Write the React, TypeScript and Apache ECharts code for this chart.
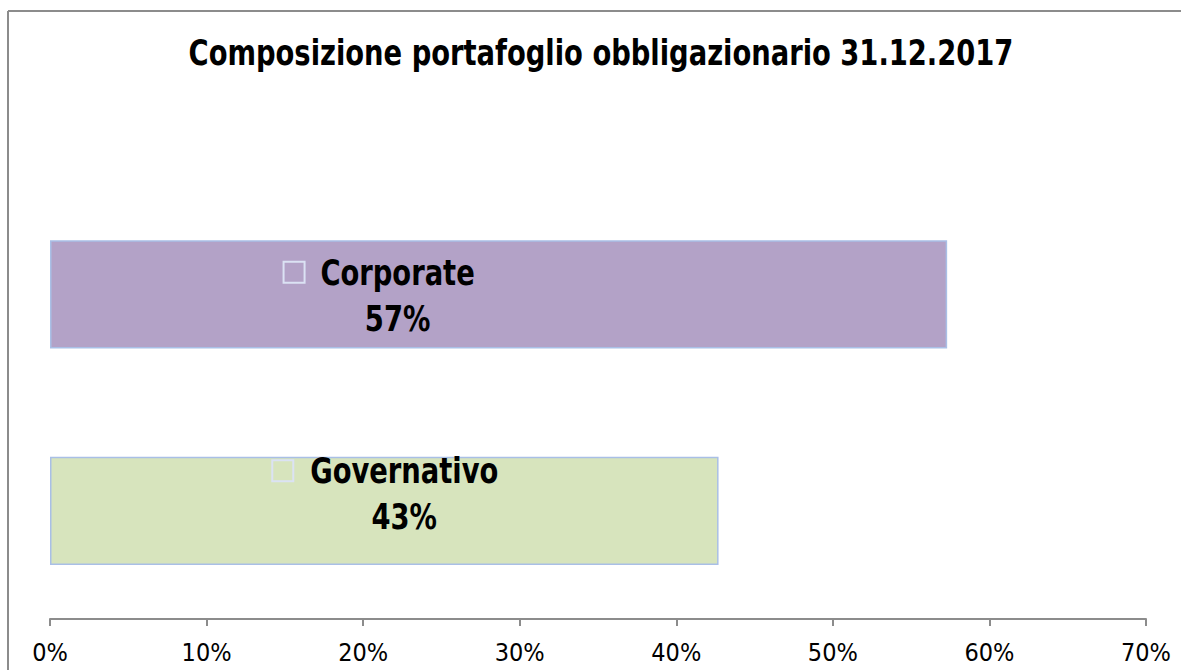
import React, { useEffect, useRef } from "react";
import * as echarts from "echarts";

const title = "Composizione portafoglio obbligazionario 31.12.2017";
const categories = ["Governativo", "Corporate"];
const values = [42.7, 57.3];
const valueLabels = ["43%", "57%"];
const tickLabels = ["0%", "10%", "20%", "30%", "40%", "50%", "60%", "70%"];

// styling (not data)
const barColors = ["#d7e4bd", "#b3a2c7"];
const labelShift = [
  { dx: 20, dy: -40, keyDx: -132 },
  { dx: -101, dy: -22, keyDx: -114 },
];

const COND = "'DejaVu Sans Condensed', 'DejaVu Sans', sans-serif";
const SQUEEZE = 0.845;

export default function App() {
  const ref = useRef<HTMLDivElement>(null);
  useEffect(() => {
    const chart = echarts.init(ref.current!, null, { renderer: "svg" });
    chart.setOption({
      animation: false,
      backgroundColor: "#ffffff",
      grid: { left: 50, right: 35, top: 186, bottom: 51, containLabel: false },
      xAxis: {
        type: "value",
        min: 0,
        max: 70,
        interval: 10,
        axisLine: { show: true, lineStyle: { color: "#8c8c8c", width: 2 } },
        axisTick: { show: true, length: 7, lineStyle: { color: "#8c8c8c", width: 2 } },
        splitLine: { show: false },
        axisLabel: {
          margin: 21,
          fontFamily: COND,
          fontSize: 25,
          color: "#000",
          formatter: (v: number) => tickLabels[Math.round(v / 10)] ?? "",
        },
      },
      yAxis: {
        type: "category",
        data: categories,
        axisLine: { show: false },
        axisTick: { show: false },
        axisLabel: { show: false },
      },
      series: [
        {
          type: "bar",
          barWidth: "50%",
          data: values.map((v, i) => ({
            value: v,
            itemStyle: { color: barColors[i], borderColor: "#a9bfe6", borderWidth: 1.5 },
          })),
          label: { show: false },
        },
        {
          type: "custom",
          coordinateSystem: "cartesian2d",
          encode: { x: 0, y: 1 },
          data: values.map((v, i) => [v, i]),
          z: 10,
          silent: true,
          renderItem: (params: any, api: any) => {
            const i = params.dataIndex;
            const v = api.value(0);
            const c = api.coord([v / 2, i]);
            const s = labelShift[i];
            const cx = c[0] + s.dx;
            const y1 = c[1] + s.dy;
            const y2 = y1 + 46;
            const font = `bold 36px ${COND}`;
            return {
              type: "group",
              children: [
                {
                  type: "rect",
                  shape: { x: cx + s.keyDx, y: y1 - 10.5, width: 21, height: 21 },
                  style: { fill: "none", stroke: "#dbe2f4", lineWidth: 2 },
                },
                {
                  type: "text",
                  x: cx,
                  y: y1,
                  scaleX: SQUEEZE,
                  style: {
                    text: categories[i],
                    x: 0,
                    y: 0,
                    font,
                    fill: "#000",
                    textAlign: "center",
                    textVerticalAlign: "middle",
                  },
                },
                {
                  type: "text",
                  x: cx,
                  y: y2,
                  scaleX: SQUEEZE,
                  style: {
                    text: valueLabels[i],
                    x: 0,
                    y: 0,
                    font,
                    fill: "#000",
                    textAlign: "center",
                    textVerticalAlign: "middle",
                  },
                },
              ],
            };
          },
        },
      ],
      graphic: [
        { type: "line", shape: { x1: 8, y1: 11, x2: 1181, y2: 11 }, style: { stroke: "#8c8c8c", lineWidth: 2 } },
        { type: "line", shape: { x1: 8, y1: 11, x2: 8, y2: 670 }, style: { stroke: "#8c8c8c", lineWidth: 2 } },
        {
          type: "text",
          x: 601,
          y: 53,
          scaleX: SQUEEZE,
          style: {
            text: title,
            x: 0,
            y: 0,
            font: `bold 36px ${COND}`,
            fill: "#000",
            textAlign: "center",
            textVerticalAlign: "middle",
          },
        },
      ],
    });
    return () => chart.dispose();
  }, []);
  return <div ref={ref} style={{ position: "fixed", left: 0, top: 0, width: 1181, height: 670 }} />;
}
